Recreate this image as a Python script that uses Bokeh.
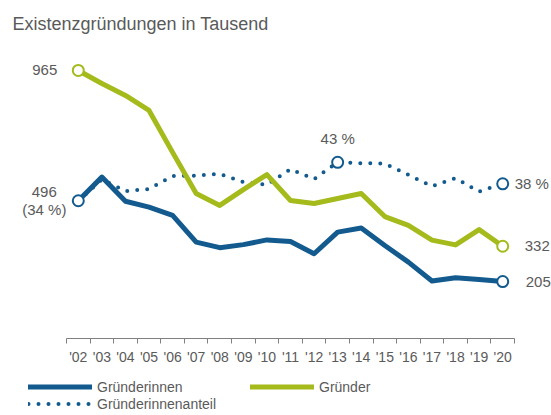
from bokeh.plotting import figure
from bokeh.layouts import column
from bokeh.models import Range1d, FixedTicker, Label, Legend, LegendItem
from bokeh.embed import file_html
from bokeh.resources import INLINE

# ---- data ----
years = list(range(2002, 2021))
tick_labels = ["'02", "'03", "'04", "'05", "'06", "'07", "'08", "'09", "'10", "'11",
               "'12", "'13", "'14", "'15", "'16", "'17", "'18", "'19", "'20"]
gruender = [965, 918, 875, 821, 670, 522, 479, 536, 590, 497,
            486, 504, 522, 439, 407, 354, 337, 392, 332]
gruenderinnen = [496, 581, 494, 473, 443, 347, 327, 338, 355, 349,
                 305, 383, 398, 335, 275, 207, 219, 212, 205]
anteil = [34, 39.0, 36.3, 36.8, 39.8, 39.9, 40.3, 38.4, 37.8, 41.4,
          39.1, 43, 42.8, 42.7, 40.1, 37.4, 39.3, 36.2, 38]

title_text = "Existenzgründungen in Tausend"
series_names = ["Gründerinnen", "Gründer", "Gründerinnenanteil"]

BLUE = "#135b8e"
GREEN = "#a5ba1b"
TXT = "#5a5a5a"
FONT = "Liberation Sans"

# ---- layout constants (pixels) ----
W = 551
TOP = 40          # frame top
BOTTOM = 338      # frame bottom (x axis)
MAIN_H = 370
LEG_H = 415 - MAIN_H
AX_LEFT, AX_RIGHT = 66, 514
step = (AX_RIGHT - AX_LEFT) / len(years)
x0 = years[0] - 0.5 - AX_LEFT / step
x1 = years[-1] + 0.5 + (W - AX_RIGHT) / step
frame_h = BOTTOM - TOP
y_end = frame_h * 3.6
s_zero_px = 346.7      # pixel where share 0 % would be (below axis)
s_per_px = 1 / 4.3
s_start = (s_zero_px - BOTTOM) * s_per_px
s_end = (s_zero_px - TOP) * s_per_px

p = figure(width=W, height=MAIN_H,
           x_range=Range1d(x0, x1), y_range=Range1d(0, y_end),
           y_axis_location=None, toolbar_location=None, output_backend="svg",
           min_border_left=0, min_border_right=0, min_border_top=TOP,
           min_border_bottom=MAIN_H - BOTTOM)
p.extra_y_ranges = {"share": Range1d(s_start, s_end)}
p.outline_line_color = None
p.xgrid.visible = False
p.ygrid.visible = False

p.title.text = title_text
p.title.align = "left"
p.title.offset = 12
p.title.text_font = FONT
p.title.text_font_size = "18px"
p.title.text_font_style = "normal"
p.title.text_color = TXT
p.title.standoff = 13

# x axis: labels at year centres, ticks at boundaries
ax = p.xaxis[0]
ax.bounds = (years[0] - 0.5, years[-1] + 0.5)
ax.ticker = FixedTicker(ticks=years, minor_ticks=[y - 0.5 for y in years] + [years[-1] + 0.5])
ax.major_label_overrides = {y: t for y, t in zip(years, tick_labels)}
ax.major_tick_out = 0
ax.major_tick_in = 0
ax.minor_tick_out = 5
ax.minor_tick_in = 0
ax.axis_line_color = "#808080"
ax.minor_tick_line_color = "#808080"
ax.major_label_text_font = FONT
ax.major_label_text_font_size = "14px"
ax.major_label_text_color = TXT
ax.major_label_standoff = 5

share_style = dict(line_color=BLUE, line_width=4, line_dash="0 10", line_cap="round")
g_style = dict(line_color=GREEN, line_width=5, line_join="round", line_cap="round")
b_style = dict(line_color=BLUE, line_width=5, line_join="round", line_cap="round")

# lines
p.line(years, anteil, y_range_name="share", **share_style)
p.line(years, gruender, **g_style)
p.line(years, gruenderinnen, **b_style)

# end markers
p.scatter([years[0], years[-1]], [gruender[0], gruender[-1]], size=11,
          fill_color="white", line_color=GREEN, line_width=2)
p.scatter([years[0], years[-1]], [gruenderinnen[0], gruenderinnen[-1]], size=11,
          fill_color="white", line_color=BLUE, line_width=2)
i_max = anteil.index(max(anteil))
p.scatter([years[i_max], years[-1]], [anteil[i_max], anteil[-1]], size=11,
          y_range_name="share", fill_color="white", line_color=BLUE, line_width=2)

def lab(x, y, text, xo=0, yo=0, align="left", rng="default", size="15px"):
    p.add_layout(Label(x=x, y=y, text=text, x_offset=xo, y_offset=yo,
                       text_align=align, text_baseline="middle", y_range_name=rng,
                       text_font=FONT, text_font_size=size, text_color=TXT))

lab(years[0], gruender[0], f"{gruender[0]}", xo=-21, align="right")
lab(years[0], gruenderinnen[0], f"{gruenderinnen[0]}", xo=-34, yo=9, align="center")
lab(years[0], gruenderinnen[0], f"({anteil[0]:g} %)", xo=-34, yo=-9, align="center")
lab(years[i_max], anteil[i_max], f"{anteil[i_max]:g} %", yo=24, align="center", rng="share")
lab(years[-1], anteil[-1], f"{anteil[-1]:g} %", xo=12, rng="share")
lab(years[-1], gruender[-1], f"{gruender[-1]}", xo=22)
lab(years[-1], gruenderinnen[-1], f"{gruenderinnen[-1]}", xo=23)

# ---- legend figure ----
lg = figure(width=W, height=LEG_H, x_range=Range1d(0, 1), y_range=Range1d(0, 1),
            x_axis_location=None, y_axis_location=None, toolbar_location=None,
            output_backend="svg", min_border=0)
lg.outline_line_color = None
lg.xgrid.visible = False
lg.ygrid.visible = False
# off-screen stand-in renderers so that the legend can draw its samples
d_b = lg.line([-5, -4], [-5, -5], **b_style)
d_g = lg.line([-5, -4], [-5, -5], **g_style)
d_s = lg.line([-5, -4], [-5, -5], **share_style)
legend = Legend(items=[LegendItem(label=series_names[0], renderers=[d_b]),
                       LegendItem(label=series_names[1], renderers=[d_g]),
                       LegendItem(label=series_names[2], renderers=[d_s])],
                location=(28, 3), orientation="horizontal", ncols=2,
                glyph_width=64, glyph_height=17, label_height=17, label_width=153,
                label_standoff=5, spacing=0, padding=0, margin=0,
                border_line_alpha=0, background_fill_alpha=0,
                label_text_font=FONT, label_text_font_size="14px", label_text_color=TXT)
lg.add_layout(legend, "center")

layout = column(p, lg, spacing=0)
open("out.html", "w").write(file_html(layout, INLINE))
